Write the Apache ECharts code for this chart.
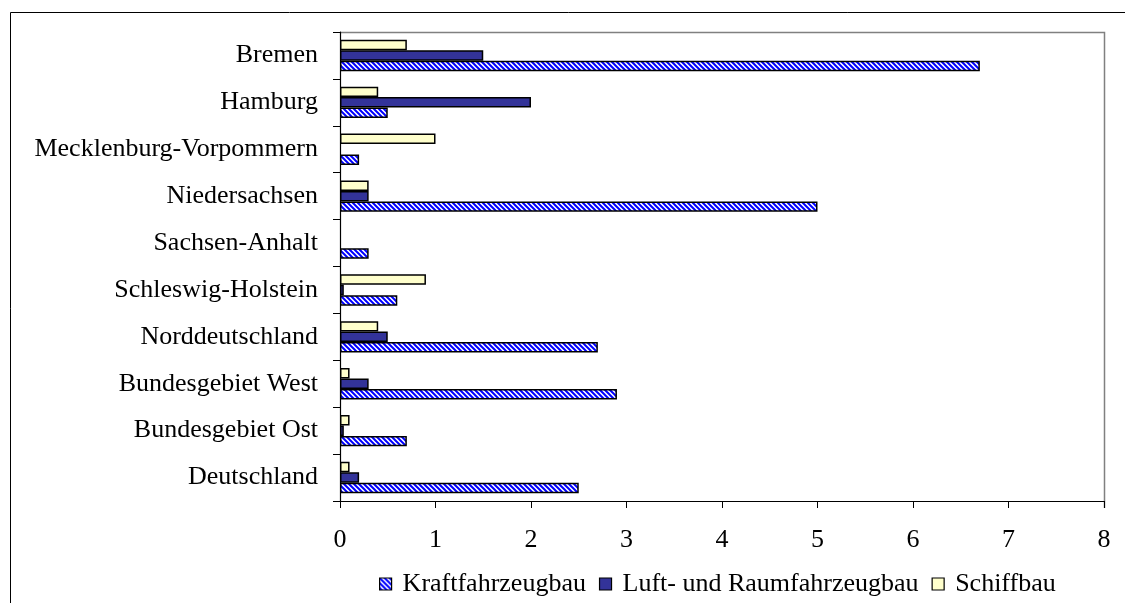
<!DOCTYPE html>
<html>
<head>
<meta charset="utf-8">
<script src="https://cdn.jsdelivr.net/npm/echarts@6/dist/echarts.min.js"></script>
<style>
  html, body { margin: 0; padding: 0; background: #fff; }
  #chart { width: 1125px; height: 603px; }
</style>
</head>
<body>
<div id="chart"></div>
<script>
// Kategorien von oben nach unten
var laender = ['Bremen', 'Hamburg', 'Mecklenburg-Vorpommern', 'Niedersachsen', 'Sachsen-Anhalt',
  'Schleswig-Holstein', 'Norddeutschland', 'Bundesgebiet West', 'Bundesgebiet Ost', 'Deutschland']
var kraftfahrzeugbau = [6.7, 0.5, 0.2, 5.0, 0.3, 0.6, 2.7, 2.9, 0.7, 2.5]
var luftRaumfahrzeugbau = [1.5, 2.0, 0, 0.3, 0, 0.04, 0.5, 0.3, 0.04, 0.2]
var schiffbau = [0.7, 0.4, 1.0, 0.3, 0, 0.9, 0.4, 0.1, 0.1, 0.1]
var xTicks = [0, 1, 2, 3, 4, 5, 6, 7, 8]

var font = "'Liberation Serif', 'Times New Roman', serif"

// Schraffur fuer Kraftfahrzeugbau (blau/weiss diagonal)
function makeHatch() {
  var c = document.createElement('canvas')
  c.width = 5; c.height = 5
  var ctx = c.getContext('2d')
  ctx.fillStyle = '#ffffff'
  ctx.fillRect(0, 0, 5, 5)
  ctx.strokeStyle = '#0000ff'
  ctx.lineWidth = 2
  ctx.beginPath()
  ctx.moveTo(-2.5, 2.5); ctx.lineTo(2.5, 7.5)
  ctx.moveTo(0, 0); ctx.lineTo(5, 5)
  ctx.moveTo(2.5, -2.5); ctx.lineTo(7.5, 2.5)
  ctx.stroke()
  return c
}
var hatch = { image: makeHatch(), repeat: 'repeat' }

// Nullwerte ohne Rahmen zeichnen (im Original unsichtbar)
function toData(arr) {
  return arr.map(function (v) {
    return v === 0 ? { value: v, itemStyle: { borderWidth: 0, opacity: 0 } } : v
  })
}

var chart = echarts.init(document.getElementById('chart'))
var option = {
  animation: false,
  backgroundColor: '#fff',
  textStyle: { fontFamily: font },
  graphic: [
    { type: 'rect', shape: { x: 10.5, y: 12.5, width: 1200, height: 700 },
      style: { fill: 'none', stroke: '#000', lineWidth: 1 }, silent: true, z: -1 },
    { type: 'polyline', shape: { points: [[340, 32.5], [1104.5, 32.5], [1104.5, 508]] },
      style: { fill: 'none', stroke: '#808080', lineWidth: 1.5 }, silent: true }
  ],
  grid: { left: 340, right: 21, top: 32, bottom: 102, containLabel: false },
  legend: {
    left: 374,
    top: 566,
    icon: 'rect',
    itemWidth: 12,
    itemHeight: 12,
    itemGap: 13,
    data: ['Kraftfahrzeugbau', 'Luft- und Raumfahrzeugbau', 'Schiffbau'],
    textStyle: { fontFamily: font, fontSize: 26, color: '#000', padding: [0, 0, 0, 6] },
    itemStyle: { borderColor: '#000', borderWidth: 1.2 }
  },
  xAxis: {
    type: 'value',
    min: xTicks[0],
    max: xTicks[xTicks.length - 1],
    interval: 1,
    splitLine: { show: false },
    axisLine: { show: true, lineStyle: { color: '#000', width: 1.2 } },
    axisTick: { show: true, length: 7, inside: false, lineStyle: { color: '#000' } },
    axisLabel: { margin: 26, fontSize: 26, color: '#000', fontFamily: font }
  },
  yAxis: {
    type: 'category',
    data: laender,
    inverse: true,
    axisLine: { show: true, lineStyle: { color: '#000', width: 1.2 } },
    axisTick: { show: true, length: 7, alignWithLabel: false, lineStyle: { color: '#000' } },
    axisLabel: { margin: 22, fontSize: 26, color: '#000', fontFamily: font }
  },
  series: [
    {
      name: 'Schiffbau', type: 'bar', data: toData(schiffbau),
      barGap: '0%', barCategoryGap: '33%',
      itemStyle: { color: '#ffffcc', borderColor: '#000', borderWidth: 1.5 }
    },
    {
      name: 'Luft- und Raumfahrzeugbau', type: 'bar', data: toData(luftRaumfahrzeugbau),
      barGap: '0%', barCategoryGap: '33%',
      itemStyle: { color: '#333399', borderColor: '#000', borderWidth: 1.5 }
    },
    {
      name: 'Kraftfahrzeugbau', type: 'bar', data: toData(kraftfahrzeugbau),
      barGap: '0%', barCategoryGap: '33%',
      itemStyle: { color: hatch, borderColor: '#000', borderWidth: 1.5 }
    }
  ]
}
chart.setOption(option)
</script>
</body>
</html>
